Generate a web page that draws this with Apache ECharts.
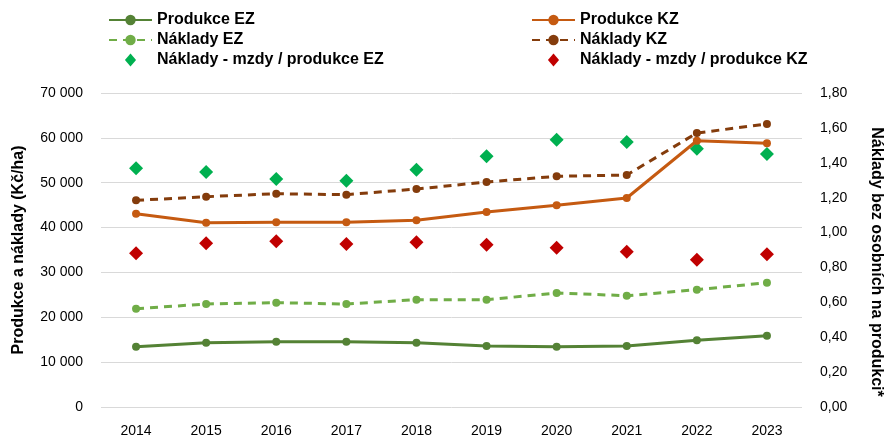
<!DOCTYPE html>
<html><head><meta charset="utf-8">
<script src="https://cdn.jsdelivr.net/npm/echarts@6/dist/echarts.min.js"></script>
<style>html,body{margin:0;padding:0;background:#fff}#c{width:886px;height:437px}</style>
</head><body><div id="c"></div>
<script>
const years = ['2014','2015','2016','2017','2018','2019','2020','2021','2022','2023'];
const produkceEZ = [13440,14330,14560,14560,14330,13600,13440,13600,14870,15900];
const nakladyEZ = [21910,22960,23250,22960,23920,23920,25410,24810,26150,27710];
const produkceKZ = [43090,41080,41170,41170,41620,43470,44960,46590,59360,58780];
const nakladyKZ = [46070,46880,47550,47330,48600,50160,51430,51720,61080,63090];
const pomerEZ = [1.368,1.347,1.307,1.297,1.360,1.437,1.532,1.519,1.480,1.450];
const pomerKZ = [0.881,0.938,0.950,0.934,0.944,0.930,0.913,0.890,0.844,0.875];

const FONT = '"Liberation Sans", Arial, sans-serif';
const DIAMOND = 'path://M6,0L12,7L6,14L0,7Z';
const chart = echarts.init(document.getElementById('c'));
const legendBase = {
  orient: 'vertical', itemGap: 4, itemWidth: 43, itemHeight: 13,
  textStyle: {fontFamily: FONT, fontWeight: 'bold', fontSize: 16, lineHeight: 16, color: '#000'},
  selectedMode: false
};
function fmtThousands(v){ return String(v).replace(/\B(?=(\d{3})+(?!\d))/g, '\u00a0'); }
chart.setOption({
  animation: false,
  legend: [
    Object.assign({}, legendBase, {left: 103, top: 7, data: ['Produkce EZ','Náklady EZ',{name: 'Náklady - mzdy / produkce EZ', icon: DIAMOND}]}),
    Object.assign({}, legendBase, {left: 526, top: 7, data: ['Produkce KZ','Náklady KZ',{name: 'Náklady - mzdy / produkce KZ', icon: DIAMOND}]})
  ],
  grid: {left: 101, right: 84, top: 93, bottom: 30, containLabel: false, outerBoundsMode: 'none'},
  xAxis: {
    type: 'category', data: years, boundaryGap: true,
    axisLine: {show: false}, axisTick: {show: false},
    axisLabel: {fontFamily: FONT, fontSize: 14, color: '#000', margin: 17}
  },
  yAxis: [
    {type: 'value', min: 0, max: 70000, interval: 10000,
     name: 'Produkce a náklady (Kč/ha)', nameLocation: 'middle', nameGap: 74, nameRotate: 90,
     nameTextStyle: {fontFamily: FONT, fontWeight: 'bold', fontSize: 16, color: '#000'},
     axisLabel: {fontFamily: FONT, fontSize: 14, color: '#000', margin: 18, formatter: fmtThousands},
     splitLine: {lineStyle: {color: '#d9d9d9', width: 1}}, axisLine: {show: false}, axisTick: {show: false}},
    {type: 'value', min: 0, max: 1.8, interval: 0.2,
     name: 'Náklady bez osobních na produkci*', nameLocation: 'middle', nameGap: 66, nameRotate: -90,
     nameTextStyle: {fontFamily: FONT, fontWeight: 'bold', fontSize: 16, color: '#000', padding: [0, 0, 0, 24]},
     axisLabel: {fontFamily: FONT, fontSize: 14, color: '#000', margin: 18, formatter: v => v.toFixed(2).replace('.', ',')},
     splitLine: {show: false}, axisLine: {show: false}, axisTick: {show: false}}
  ],
  series: [
    {name: 'Produkce EZ', type: 'line', data: produkceEZ, yAxisIndex: 0, color: '#548235',
     symbol: 'circle', symbolSize: 8, lineStyle: {width: 3}},
    {name: 'Náklady EZ', type: 'line', data: nakladyEZ, yAxisIndex: 0, color: '#70AD47',
     symbol: 'circle', symbolSize: 8, lineStyle: {width: 3, type: [8, 6]}},
    {name: 'Náklady - mzdy / produkce EZ', type: 'scatter', data: pomerEZ, yAxisIndex: 1, color: '#00B050',
     symbol: 'diamond', symbolSize: [14, 14], itemStyle: {opacity: 1}},
    {name: 'Produkce KZ', type: 'line', data: produkceKZ, yAxisIndex: 0, color: '#C55A11',
     symbol: 'circle', symbolSize: 8, lineStyle: {width: 3}},
    {name: 'Náklady KZ', type: 'line', data: nakladyKZ, yAxisIndex: 0, color: '#843C0C',
     symbol: 'circle', symbolSize: 8, lineStyle: {width: 3, type: [8, 6]}},
    {name: 'Náklady - mzdy / produkce KZ', type: 'scatter', data: pomerKZ, yAxisIndex: 1, color: '#C00000',
     symbol: 'diamond', symbolSize: [14, 14], itemStyle: {opacity: 1}}
  ]
});
</script></body></html>
